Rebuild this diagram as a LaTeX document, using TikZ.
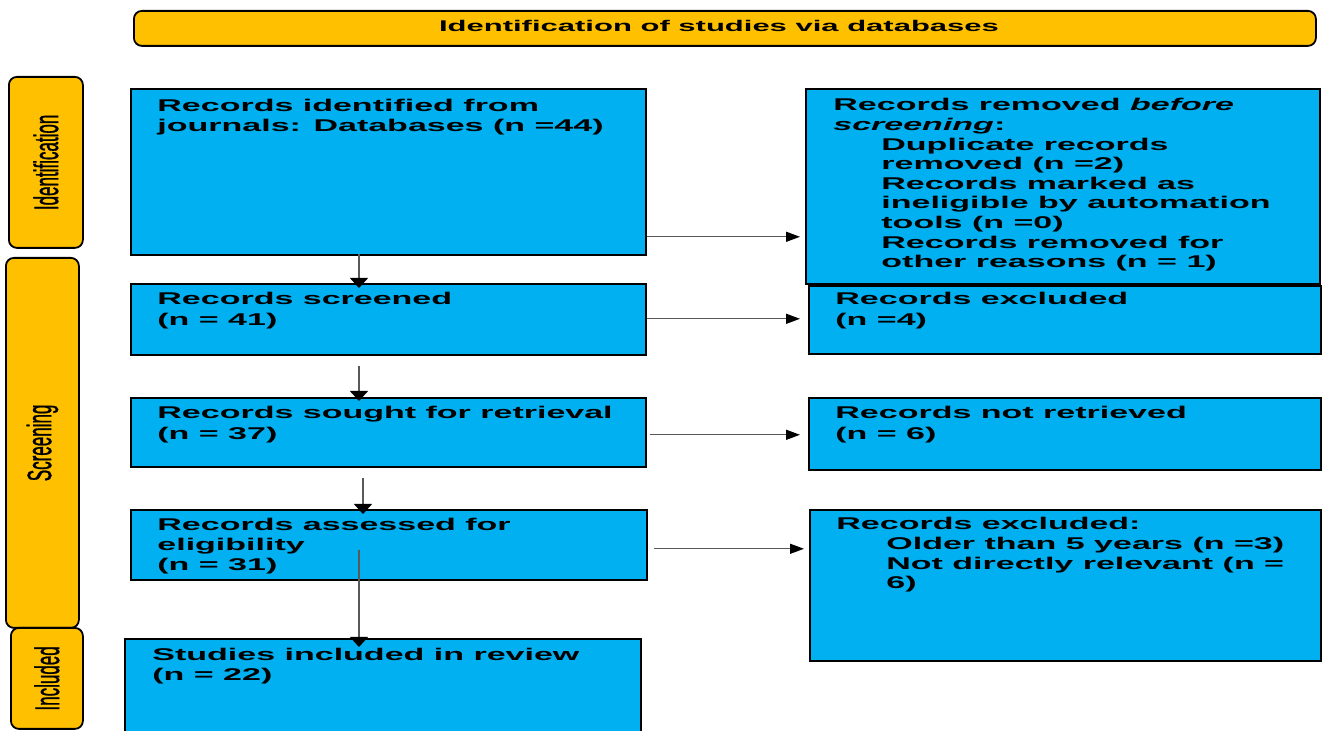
\documentclass[tikz,border=0pt]{standalone}
\usepackage{fontspec}
\usepackage{graphicx}
\usetikzlibrary{arrows.meta,calc}
\setmainfont{Liberation Sans}
\newfontfamily\widefont{Liberation Sans}[FakeStretch=2.0]
\newfontfamily\labelfont{Liberation Sans}[FakeBold=1.2]
\definecolor{boxblue}{HTML}{00B0F0}
\definecolor{phasecol}{HTML}{FFC000}
\newcommand{\boxtext}[2][9.8pt]{\parbox[t]{250pt}{\raggedright\widefont\bfseries\fontsize{8.5pt}{#1}\selectfont #2}}
\newcommand{\phasetext}[1]{\rotatebox{90}{\scalebox{1}[2]{\labelfont\fontsize{8.5pt}{10pt}\selectfont #1}}}
\newcommand{\ind}{\hspace*{24pt}}
\begin{document}
\begin{tikzpicture}[x=0.5pt,y=-0.5pt,
  box/.style={draw=black, line width=0.9pt, fill=boxblue, inner sep=0pt, anchor=north west},
  phasebox/.style={draw=black, line width=0.9pt, fill=phasecol, rounded corners=4pt, inner sep=0pt, anchor=north west},
  btext/.style={inner sep=0pt, anchor=base west},
  conn/.style={draw=black!65, line width=0.7pt},
  varrow/.style={conn, -{Triangle[length=5pt,width=9pt,color=black]}},
  harrow/.style={conn, -{Triangle[length=7pt,width=5pt,color=black]}},
]
\clip (0,0) rectangle (1324,731);
\fill[white] (0,0) rectangle (1324,731);

% banner
\node[phasebox, minimum width=591pt, minimum height=17.5pt] (banner) at (133,10) {};
\node[inner sep=0pt] (bannertext) at (719,26)
  {\widefont\bfseries\fontsize{7.75pt}{9pt}\selectfont Identification of studies via databases};

% phase labels
\node[phasebox, minimum width=37pt, minimum height=85.5pt] (pI) at (8,76) {\phasetext{Identification}};
\node[phasebox, minimum width=36.5pt, minimum height=185pt] (pS) at (5,257) {\phasetext{Screening}};
\node[phasebox, minimum width=36pt, minimum height=50.5pt] (pN) at (10,627) {\phasetext{Included}};

% boxes
\node[box, minimum width=257.5pt, minimum height=83pt] (b1) at (130,88) {};
\node[box, minimum width=257pt, minimum height=97.5pt] (b2) at (805,88) {};
\node[box, minimum width=257.5pt, minimum height=35.5pt] (b3) at (130,283) {};
\node[box, minimum width=256pt, minimum height=34pt] (b4) at (808,285) {};
\node[box, minimum width=257.5pt, minimum height=34.5pt] (b5) at (130,397) {};
\node[box, minimum width=256pt, minimum height=36pt] (b6) at (808,397) {};
\node[box, minimum width=258pt, minimum height=35pt] (b7) at (130,509) {};
\node[box, minimum width=255.5pt, minimum height=75.5pt] (b8) at (809,509) {};
\node[box, minimum width=258pt, minimum height=55pt] (b9) at (124,638) {};

% texts
\node[btext] (t1) at (157,112) {\boxtext[10pt]{Records identified from\\journals: Databases (n =44)}};
\node[btext] (t2) at (833,111) {\boxtext{Records removed \textit{before}\\\textit{screening}:\\
  \ind Duplicate records\\\ind removed (n =2)\\\ind Records marked as\\\ind ineligible by automation\\\ind tools (n =0)\\\ind Records removed for\\\ind other reasons (n = 1)}};
\node[btext] (t3) at (157,305) {\boxtext[10.5pt]{Records screened\\(n = 41)}};
\node[btext] (t4) at (835,305) {\boxtext[10.5pt]{Records excluded\\(n =4)}};
\node[btext] (t5) at (157,419) {\boxtext[10.5pt]{Records sought for retrieval\\(n = 37)}};
\node[btext] (t6) at (835,419) {\boxtext[10.5pt]{Records not retrieved\\(n = 6)}};
\node[btext] (t7) at (157,531) {\boxtext[10pt]{Records assessed for\\eligibility\\(n = 31)}};
\node[btext] (t8) at (836,530) {\boxtext{Records excluded:\\\hspace*{25pt}Older than 5 years (n =3)\\\hspace*{25pt}Not directly relevant (n =\\\hspace*{25pt}6)}};
\node[btext] (t9) at (152,661) {\boxtext[10pt]{Studies included in review\\(n = 22)}};

% vertical connectors
\draw[varrow] ($(b1.south west)+(229,-2)$) -- ($(b3.north west)+(229,5)$);
\draw[varrow] ($(b3.south west)+(229,10)$) -- ($(b5.north west)+(229,4)$);
\draw[varrow] ($(b5.south west)+(233,10)$) -- ($(b7.north west)+(233,5)$);
\draw[varrow] ($(b7.north west)+(229,41)$) -- ($(b9.north west)+(235,9)$);

% horizontal connectors
\draw[harrow] ($(b1.south east)+(0,-19)$) -- ($(b2.west |- b1.south east)+(-5,-19)$);
\draw[harrow] ($(b3.south east)+(0,-37)$) -- ($(b4.west |- b3.south east)+(-8,-37)$);
\draw[harrow] ($(b5.south east)+(3,-33)$) -- ($(b6.west |- b5.south east)+(-8,-33)$);
\draw[harrow] ($(b7.south east)+(6,-32)$) -- ($(b8.west |- b7.south east)+(-5,-32)$);
\end{tikzpicture}
\end{document}
